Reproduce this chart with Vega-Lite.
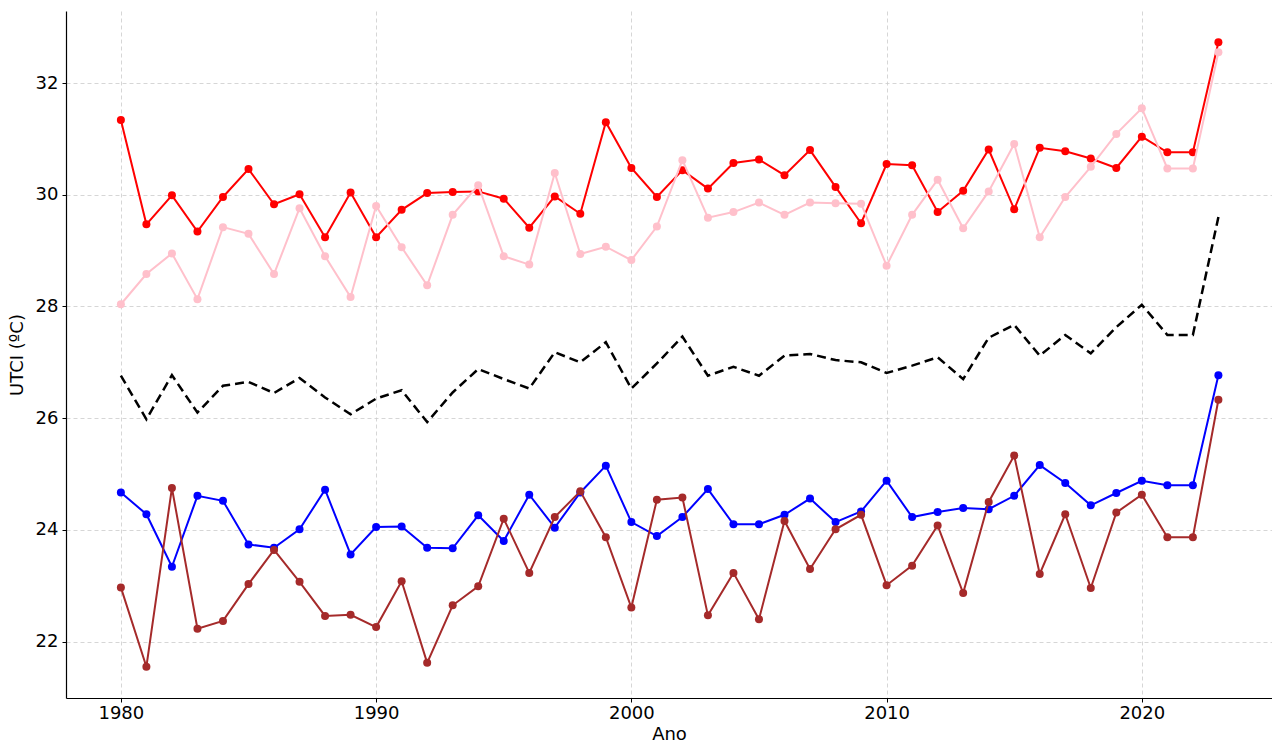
{
  "$schema": "https://vega.github.io/schema/vega-lite/v6.json",
  "width": 1206,
  "height": 687,
  "autosize": {"type": "none"},
  "padding": {"left": 66, "top": 11, "right": 0, "bottom": 48},
  "background": "white",
  "config": {
    "view": {"stroke": null},
    "font": "DejaVu Sans",
    "axis": {
      "domainColor": "#000000",
      "domainWidth": 1.2,
      "tickColor": "#000000",
      "tickSize": 4,
      "labelColor": "#000000",
      "labelFont": "DejaVu Sans",
      "labelFontSize": 18,
      "titleFont": "DejaVu Sans",
      "titleFontSize": 18,
      "titleFontWeight": "normal",
      "titleColor": "#000000",
      "grid": true,
      "gridColor": "#cccccc",
      "gridDash": [4, 3],
      "gridWidth": 0.8
    }
  },
  "datasets": {
    "vermelho": [
      {"ano": 1980, "utci": 31.34}, {"ano": 1981, "utci": 29.47}, {"ano": 1982, "utci": 29.99}, {"ano": 1983, "utci": 29.34},
      {"ano": 1984, "utci": 29.96}, {"ano": 1985, "utci": 30.46}, {"ano": 1986, "utci": 29.83}, {"ano": 1987, "utci": 30.01},
      {"ano": 1988, "utci": 29.24}, {"ano": 1989, "utci": 30.04}, {"ano": 1990, "utci": 29.24}, {"ano": 1991, "utci": 29.73},
      {"ano": 1992, "utci": 30.03}, {"ano": 1993, "utci": 30.05}, {"ano": 1994, "utci": 30.06}, {"ano": 1995, "utci": 29.93},
      {"ano": 1996, "utci": 29.41}, {"ano": 1997, "utci": 29.97}, {"ano": 1998, "utci": 29.66}, {"ano": 1999, "utci": 31.30},
      {"ano": 2000, "utci": 30.48}, {"ano": 2001, "utci": 29.96}, {"ano": 2002, "utci": 30.44}, {"ano": 2003, "utci": 30.11},
      {"ano": 2004, "utci": 30.57}, {"ano": 2005, "utci": 30.63}, {"ano": 2006, "utci": 30.35}, {"ano": 2007, "utci": 30.80},
      {"ano": 2008, "utci": 30.14}, {"ano": 2009, "utci": 29.49}, {"ano": 2010, "utci": 30.55}, {"ano": 2011, "utci": 30.53},
      {"ano": 2012, "utci": 29.69}, {"ano": 2013, "utci": 30.07}, {"ano": 2014, "utci": 30.81}, {"ano": 2015, "utci": 29.74},
      {"ano": 2016, "utci": 30.84}, {"ano": 2017, "utci": 30.78}, {"ano": 2018, "utci": 30.65}, {"ano": 2019, "utci": 30.48},
      {"ano": 2020, "utci": 31.04}, {"ano": 2021, "utci": 30.76}, {"ano": 2022, "utci": 30.76}, {"ano": 2023, "utci": 32.73}
    ],
    "rosa": [
      {"ano": 1980, "utci": 28.04}, {"ano": 1981, "utci": 28.58}, {"ano": 1982, "utci": 28.95}, {"ano": 1983, "utci": 28.13},
      {"ano": 1984, "utci": 29.42}, {"ano": 1985, "utci": 29.30}, {"ano": 1986, "utci": 28.58}, {"ano": 1987, "utci": 29.76},
      {"ano": 1988, "utci": 28.90}, {"ano": 1989, "utci": 28.17}, {"ano": 1990, "utci": 29.80}, {"ano": 1991, "utci": 29.06},
      {"ano": 1992, "utci": 28.38}, {"ano": 1993, "utci": 29.64}, {"ano": 1994, "utci": 30.17}, {"ano": 1995, "utci": 28.90},
      {"ano": 1996, "utci": 28.75}, {"ano": 1997, "utci": 30.39}, {"ano": 1998, "utci": 28.94}, {"ano": 1999, "utci": 29.07},
      {"ano": 2000, "utci": 28.83}, {"ano": 2001, "utci": 29.43}, {"ano": 2002, "utci": 30.62}, {"ano": 2003, "utci": 29.59},
      {"ano": 2004, "utci": 29.69}, {"ano": 2005, "utci": 29.86}, {"ano": 2006, "utci": 29.64}, {"ano": 2007, "utci": 29.86},
      {"ano": 2008, "utci": 29.85}, {"ano": 2009, "utci": 29.84}, {"ano": 2010, "utci": 28.73}, {"ano": 2011, "utci": 29.64},
      {"ano": 2012, "utci": 30.27}, {"ano": 2013, "utci": 29.40}, {"ano": 2014, "utci": 30.06}, {"ano": 2015, "utci": 30.91},
      {"ano": 2016, "utci": 29.24}, {"ano": 2017, "utci": 29.96}, {"ano": 2018, "utci": 30.50}, {"ano": 2019, "utci": 31.09},
      {"ano": 2020, "utci": 31.55}, {"ano": 2021, "utci": 30.47}, {"ano": 2022, "utci": 30.47}, {"ano": 2023, "utci": 32.55}
    ],
    "media": [
      {"ano": 1980, "utci": 26.76}, {"ano": 1981, "utci": 25.98}, {"ano": 1982, "utci": 26.77}, {"ano": 1983, "utci": 26.10},
      {"ano": 1984, "utci": 26.58}, {"ano": 1985, "utci": 26.65}, {"ano": 1986, "utci": 26.45}, {"ano": 1987, "utci": 26.72},
      {"ano": 1988, "utci": 26.37}, {"ano": 1989, "utci": 26.07}, {"ano": 1990, "utci": 26.35}, {"ano": 1991, "utci": 26.50},
      {"ano": 1992, "utci": 25.93}, {"ano": 1993, "utci": 26.46}, {"ano": 1994, "utci": 26.88}, {"ano": 1995, "utci": 26.70},
      {"ano": 1996, "utci": 26.53}, {"ano": 1997, "utci": 27.18}, {"ano": 1998, "utci": 27.00}, {"ano": 1999, "utci": 27.36},
      {"ano": 2000, "utci": 26.53}, {"ano": 2001, "utci": 26.98}, {"ano": 2002, "utci": 27.46}, {"ano": 2003, "utci": 26.76},
      {"ano": 2004, "utci": 26.92}, {"ano": 2005, "utci": 26.76}, {"ano": 2006, "utci": 27.12}, {"ano": 2007, "utci": 27.15},
      {"ano": 2008, "utci": 27.04}, {"ano": 2009, "utci": 27.00}, {"ano": 2010, "utci": 26.81}, {"ano": 2011, "utci": 26.94},
      {"ano": 2012, "utci": 27.09}, {"ano": 2013, "utci": 26.70}, {"ano": 2014, "utci": 27.44}, {"ano": 2015, "utci": 27.67},
      {"ano": 2016, "utci": 27.12}, {"ano": 2017, "utci": 27.49}, {"ano": 2018, "utci": 27.16}, {"ano": 2019, "utci": 27.63},
      {"ano": 2020, "utci": 28.03}, {"ano": 2021, "utci": 27.49}, {"ano": 2022, "utci": 27.49}, {"ano": 2023, "utci": 29.60}
    ],
    "azul": [
      {"ano": 1980, "utci": 24.67}, {"ano": 1981, "utci": 24.28}, {"ano": 1982, "utci": 23.34}, {"ano": 1983, "utci": 24.61},
      {"ano": 1984, "utci": 24.52}, {"ano": 1985, "utci": 23.74}, {"ano": 1986, "utci": 23.68}, {"ano": 1987, "utci": 24.01},
      {"ano": 1988, "utci": 24.72}, {"ano": 1989, "utci": 23.56}, {"ano": 1990, "utci": 24.05}, {"ano": 1991, "utci": 24.06},
      {"ano": 1992, "utci": 23.68}, {"ano": 1993, "utci": 23.67}, {"ano": 1994, "utci": 24.26}, {"ano": 1995, "utci": 23.80},
      {"ano": 1996, "utci": 24.63}, {"ano": 1997, "utci": 24.04}, {"ano": 1998, "utci": 24.67}, {"ano": 1999, "utci": 25.15},
      {"ano": 2000, "utci": 24.14}, {"ano": 2001, "utci": 23.89}, {"ano": 2002, "utci": 24.23}, {"ano": 2003, "utci": 24.73},
      {"ano": 2004, "utci": 24.10}, {"ano": 2005, "utci": 24.10}, {"ano": 2006, "utci": 24.27}, {"ano": 2007, "utci": 24.56},
      {"ano": 2008, "utci": 24.14}, {"ano": 2009, "utci": 24.33}, {"ano": 2010, "utci": 24.88}, {"ano": 2011, "utci": 24.23},
      {"ano": 2012, "utci": 24.32}, {"ano": 2013, "utci": 24.39}, {"ano": 2014, "utci": 24.37}, {"ano": 2015, "utci": 24.61},
      {"ano": 2016, "utci": 25.16}, {"ano": 2017, "utci": 24.84}, {"ano": 2018, "utci": 24.44}, {"ano": 2019, "utci": 24.66},
      {"ano": 2020, "utci": 24.88}, {"ano": 2021, "utci": 24.80}, {"ano": 2022, "utci": 24.80}, {"ano": 2023, "utci": 26.77}
    ],
    "marrom": [
      {"ano": 1980, "utci": 22.97}, {"ano": 1981, "utci": 21.55}, {"ano": 1982, "utci": 24.75}, {"ano": 1983, "utci": 22.23},
      {"ano": 1984, "utci": 22.37}, {"ano": 1985, "utci": 23.03}, {"ano": 1986, "utci": 23.64}, {"ano": 1987, "utci": 23.07},
      {"ano": 1988, "utci": 22.46}, {"ano": 1989, "utci": 22.48}, {"ano": 1990, "utci": 22.26}, {"ano": 1991, "utci": 23.08},
      {"ano": 1992, "utci": 21.62}, {"ano": 1993, "utci": 22.65}, {"ano": 1994, "utci": 22.99}, {"ano": 1995, "utci": 24.20},
      {"ano": 1996, "utci": 23.23}, {"ano": 1997, "utci": 24.23}, {"ano": 1998, "utci": 24.69}, {"ano": 1999, "utci": 23.87},
      {"ano": 2000, "utci": 22.61}, {"ano": 2001, "utci": 24.54}, {"ano": 2002, "utci": 24.58}, {"ano": 2003, "utci": 22.47},
      {"ano": 2004, "utci": 23.23}, {"ano": 2005, "utci": 22.40}, {"ano": 2006, "utci": 24.16}, {"ano": 2007, "utci": 23.30},
      {"ano": 2008, "utci": 24.01}, {"ano": 2009, "utci": 24.27}, {"ano": 2010, "utci": 23.01}, {"ano": 2011, "utci": 23.36},
      {"ano": 2012, "utci": 24.08}, {"ano": 2013, "utci": 22.87}, {"ano": 2014, "utci": 24.50}, {"ano": 2015, "utci": 25.33},
      {"ano": 2016, "utci": 23.21}, {"ano": 2017, "utci": 24.28}, {"ano": 2018, "utci": 22.96}, {"ano": 2019, "utci": 24.31},
      {"ano": 2020, "utci": 24.63}, {"ano": 2021, "utci": 23.87}, {"ano": 2022, "utci": 23.87}, {"ano": 2023, "utci": 26.33}
    ]
  },
  "encoding": {
    "x": {
      "field": "ano",
      "type": "quantitative",
      "scale": {"domain": [1977.85, 2025.1], "nice": false, "zero": false},
      "axis": {"title": "Ano", "values": [1980, 1990, 2000, 2010, 2020], "format": "d", "labelPadding": 2, "titlePadding": 3}
    },
    "y": {
      "field": "utci",
      "type": "quantitative",
      "scale": {"domain": [20.99, 33.29], "nice": false, "zero": false},
      "axis": {"title": "UTCI (ºC)", "values": [22, 24, 26, 28, 30, 32], "labelPadding": 4, "titlePadding": 9}
    }
  },
  "layer": [
    {"data": {"name": "vermelho"}, "mark": {"type": "line", "color": "#ff0000", "strokeWidth": 2}},
    {"data": {"name": "vermelho"}, "mark": {"type": "circle", "color": "#ff0000", "size": 64, "opacity": 1}},
    {"data": {"name": "rosa"}, "mark": {"type": "line", "color": "#ffc0cb", "strokeWidth": 2}},
    {"data": {"name": "rosa"}, "mark": {"type": "circle", "color": "#ffc0cb", "size": 64, "opacity": 1}},
    {"data": {"name": "media"}, "mark": {"type": "line", "color": "#000000", "strokeWidth": 2.5, "strokeDash": [9, 5]}},
    {"data": {"name": "azul"}, "mark": {"type": "line", "color": "#0000ff", "strokeWidth": 2}},
    {"data": {"name": "azul"}, "mark": {"type": "circle", "color": "#0000ff", "size": 64, "opacity": 1}},
    {"data": {"name": "marrom"}, "mark": {"type": "line", "color": "#a52a2a", "strokeWidth": 2}},
    {"data": {"name": "marrom"}, "mark": {"type": "circle", "color": "#a52a2a", "size": 64, "opacity": 1}}
  ]
}
